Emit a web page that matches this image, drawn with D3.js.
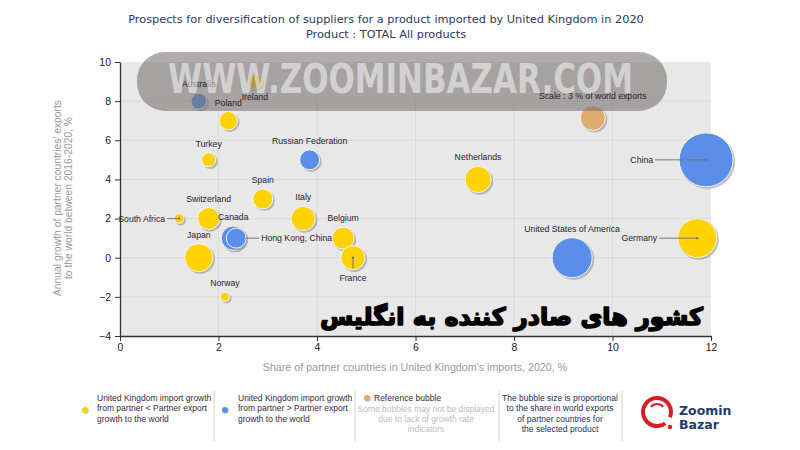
<!DOCTYPE html>
<html><head><meta charset="utf-8">
<script src="https://cdn.jsdelivr.net/npm/d3@7"></script>
<style>
body{margin:0;background:#fff;}
svg{display:block;}
</style></head>
<body>
<svg id="chart" width="800" height="450"></svg>
<script>
// ---- data ----
const countries = ["Ireland","Australia","Poland","Turkey","Russian Federation","Spain","Switzerland","South Africa","Italy","Canada","Hong Kong, China","Japan","Norway","Belgium","France","Netherlands","United States of America","China","Germany"];
const shareUK   = [2.74, 1.60, 2.20, 1.80, 3.85, 2.90, 1.80, 1.20, 3.72, 2.30, 2.36, 1.60, 2.13, 4.53, 4.73, 7.27, 9.18, 11.90, 11.72];
const growthWorld = [9.0, 8.0, 7.0, 5.0, 5.0, 3.0, 2.0, 2.0, 2.0, 1.0, 1.0, 0.0, -2.0, 1.0, 0.0, 4.0, 0.0, 5.0, 1.0];
const worldShare = [0.95, 1.2, 1.6, 0.95, 1.9, 1.9, 2.3, 0.45, 2.8, 2.8, 1.9, 3.8, 0.4, 2.3, 2.8, 3.3, 7.7, 14.0, 7.3];
const group = ["low","high","low","low","high","low","low","low","low","high","high","low","low","low","low","low","high","high","low"];
const labelSide = ["bottom","top","top","top","top","top","top","left","top","top","right","top","top","top","below-line","top","top","left","left"];
const reference = {label:"Scale : 3 % of world exports", share:9.6, growth:7.14, world:3};
const xTicks = [0,2,4,6,8,10,12];
const yTicks = [-4,-2,0,2,4,6,8,10];

const svg = d3.select("#chart");
const x = d3.scaleLinear().domain([0,12]).range([120,711]);
const y = d3.scaleLinear().domain([-4,10]).range([336,62]);
const r = d3.scaleSqrt().domain([0,3]).range([0,12.5]);
const colors = {low:"#ffd200", high:"#5b8ee8", ref:"#dcac70"};

// title
svg.append("text").attr("x",386).attr("y",23).attr("text-anchor","middle")
  .attr("font-family","DejaVu Sans").attr("font-size",11.3).attr("fill","#2b3a5c")
  .text("Prospects for diversification of suppliers for a product imported by United Kingdom in 2020");
svg.append("text").attr("x",386).attr("y",38).attr("text-anchor","middle")
  .attr("font-family","DejaVu Sans").attr("font-size",11.3).attr("fill","#2b3a5c")
  .text("Product : TOTAL All products");

// plot background
svg.append("rect").attr("x",x(0)).attr("y",y(10)).attr("width",x(12)-x(0)).attr("height",y(-4)-y(10)).attr("fill","#e8e8e8");
// grid
svg.append("g").selectAll("line").data(xTicks.slice(1,-1)).join("line")
  .attr("x1",d=>x(d)).attr("x2",d=>x(d)).attr("y1",y(10)).attr("y2",y(-4)).attr("stroke","#dadada");
svg.append("g").selectAll("line").data(yTicks.slice(1,-1)).join("line")
  .attr("y1",d=>y(d)).attr("y2",d=>y(d)).attr("x1",x(0)).attr("x2",x(12)).attr("stroke","#dadada");

// axes
const xAxis = svg.append("g").attr("transform",`translate(0,${y(-4)})`)
  .call(d3.axisBottom(x).tickValues(xTicks).tickSize(5).tickSizeOuter(0).tickFormat(d3.format("d")));
const yAxis = svg.append("g").attr("transform",`translate(${x(0)},0)`)
  .call(d3.axisLeft(y).tickValues(yTicks).tickSize(5).tickSizeOuter(0).tickFormat(d3.format("d")));
[xAxis,yAxis].forEach(a=>{
  a.select(".domain").attr("stroke","#333").attr("stroke-width",1.3);
  a.selectAll(".tick line").attr("stroke","#333");
  a.selectAll(".tick text").attr("font-family","Liberation Sans").attr("font-size",10.5).attr("fill","#222");
});
yAxis.selectAll(".tick text").attr("dx","-1");

// axis titles
svg.append("text").attr("x",415).attr("y",371).attr("text-anchor","middle")
  .attr("font-family","Liberation Sans").attr("font-size",10.7).attr("fill","#9a9a9a")
  .text("Share of partner countries in United Kingdom's imports, 2020, %");
const yl = svg.append("text").attr("transform","translate(61,198) rotate(-90)").attr("text-anchor","middle")
  .attr("font-family","Liberation Sans").attr("font-size",10.3).attr("fill","#9a9a9a");
yl.append("tspan").attr("x",0).attr("y",0).text("Annual growth of partner countries' exports");
yl.append("tspan").attr("x",0).attr("y",10.5).text("to the world between 2016-2020, %");

// bubbles
const data = countries.map((c,i)=>({name:c, sx:shareUK[i], gy:growthWorld[i], w:worldShare[i], g:group[i], side:labelSide[i]}));
const bubbles = data.concat([{name:reference.label, sx:reference.share, gy:reference.growth, w:reference.world, g:"ref", side:"top"}]);
const bg = svg.append("g");
bubbles.forEach(d=>{
  const cx=x(d.sx), cy=y(d.gy), rr=r(d.w);
  bg.append("circle").attr("cx",cx+1.6).attr("cy",cy+1.6).attr("r",rr+0.5).attr("fill","#8c8c8c").attr("opacity",0.55);
  bg.append("circle").attr("cx",cx).attr("cy",cy).attr("r",rr).attr("fill",colors[d.g]).attr("stroke","#f4f4f4").attr("stroke-width",1);
});

// watermark band (over bubbles)
svg.append("rect").attr("x",137).attr("y",52).attr("width",530).attr("height",59).attr("rx",28)
  .attr("fill","rgb(118,112,111)").attr("opacity",0.58);

// labels
const lg = svg.append("g").attr("font-family","Liberation Sans").attr("font-size",8.7).attr("fill","#2a2230");
bubbles.forEach(d=>{
  const cx=x(d.sx), cy=y(d.gy), rr=r(d.w);
  if(d.side==="top"){
    lg.append("text").attr("x",cx).attr("y",cy-rr-6).attr("text-anchor","middle").text(d.name);
  } else if(d.side==="bottom"){
    lg.append("text").attr("x",cx).attr("y",cy+rr+11).attr("text-anchor","middle").text(d.name);
  } else if(d.side==="below-line"){
    lg.append("line").attr("x1",cx).attr("x2",cx).attr("y1",cy).attr("y2",cy+rr-1).attr("stroke","#777");
    lg.append("circle").attr("cx",cx).attr("cy",cy).attr("r",1.2).attr("fill","#777");
    lg.append("text").attr("x",cx).attr("y",cy+rr+11).attr("text-anchor","middle").text(d.name);
  } else if(d.side==="left"){
    const gap = d.name==="South Africa" ? 14 : (d.name==="China" ? 53 : 40);
    const tx = cx-gap;
    lg.append("line").attr("x1",tx+2).attr("x2",cx).attr("y1",cy).attr("y2",cy).attr("stroke","#777");
    lg.append("circle").attr("cx",cx).attr("cy",cy).attr("r",1.2).attr("fill","#777");
    lg.append("text").attr("x",tx).attr("y",cy+3).attr("text-anchor","end").text(d.name);
  } else if(d.side==="right"){
    lg.append("line").attr("x1",cx+rr).attr("x2",cx+rr+13).attr("y1",cy).attr("y2",cy).attr("stroke","#777");
    lg.append("text").attr("x",cx+rr+15).attr("y",cy+3).attr("text-anchor","start").text(d.name);
  }
});

// watermark text
svg.append("text").attr("x",168).attr("y",93).attr("font-family","DejaVu Sans").attr("font-weight","bold")
  .attr("font-size",40).attr("fill","#ffffff").attr("opacity",0.5)
  .attr("textLength",465).attr("lengthAdjust","spacingAndGlyphs").text("WWW.ZOOMINBAZAR.COM");

// persian caption
const fa = svg.append("text").attr("x",703).attr("y",325).attr("text-anchor","start").attr("direction","rtl")
  .attr("font-family","DejaVu Sans").attr("font-weight","bold").attr("font-size",30).attr("fill","#000")
  .attr("stroke","#000").attr("stroke-width",1.6).attr("stroke-linejoin","round")
  .text("کشور های صادر کننده به انگلیس");
const fl = fa.node().getComputedTextLength();
fa.attr("font-size",30*383/fl);

// legend
const leg = svg.append("g").attr("font-family","Liberation Sans").attr("font-size",8.5);
[214,355,499,622].forEach(lx=>leg.append("line").attr("x1",lx).attr("x2",lx).attr("y1",391).attr("y2",441).attr("stroke","#cfcfcf"));
function block(lines, xx, y0, anchor, color){
  const t = leg.append("text").attr("text-anchor",anchor).attr("fill",color);
  lines.forEach((s,i)=>t.append("tspan").attr("x",xx).attr("y",y0+i*10.4).text(s));
}
function dot(cx,cy,c){
  leg.append("circle").attr("cx",cx+0.8).attr("cy",cy+0.8).attr("r",3.2).attr("fill","#aaa").attr("opacity",0.5);
  leg.append("circle").attr("cx",cx).attr("cy",cy).attr("r",3).attr("fill",c);
}
dot(85,410,colors.low);
block(["United Kingdom import growth","from partner < Partner export","growth to the world"],97,401,"start","#3c1f35");
dot(225,410,colors.high);
block(["United Kingdom import growth","from partner > Partner export","growth to the world"],238,401,"start","#3c1f35");
dot(367,398,colors.ref);
block(["Reference bubble"],374,401,"start","#3c1f35");
block(["Some bubbles may not be displayed","due to lack of growth rate","indicators"],426,411.5,"middle","#bdbdbd");
block(["The bubble size is proportional","to the share in world exports","of partner countries for","the selected product"],560,401,"middle","#1f2d5a");

// logo
const logo = svg.append("g");
const arc = d3.arc().innerRadius(12).outerRadius(16);
logo.append("path").attr("transform","translate(657,412)")
  .attr("d",arc({startAngle:Math.PI*0.80, endAngle:Math.PI*2.62})).attr("fill","#d42027");
logo.append("circle").attr("cx",670).attr("cy",427).attr("r",2.2).attr("fill","#d42027");
logo.append("path").attr("transform","translate(657,412)")
  .attr("d",d3.arc().innerRadius(7).outerRadius(9)({startAngle:-Math.PI*0.28,endAngle:Math.PI*0.28})).attr("fill","#d42027");
logo.append("text").attr("x",679).attr("y",415).attr("font-family","DejaVu Sans").attr("font-weight","bold")
  .attr("font-size",12.5).attr("fill","#1d3a6e").text("Zoomin");
logo.append("text").attr("x",679).attr("y",429).attr("font-family","DejaVu Sans").attr("font-weight","bold")
  .attr("font-size",12.5).attr("fill","#1d3a6e").text("Bazar");
</script>
</body></html>
